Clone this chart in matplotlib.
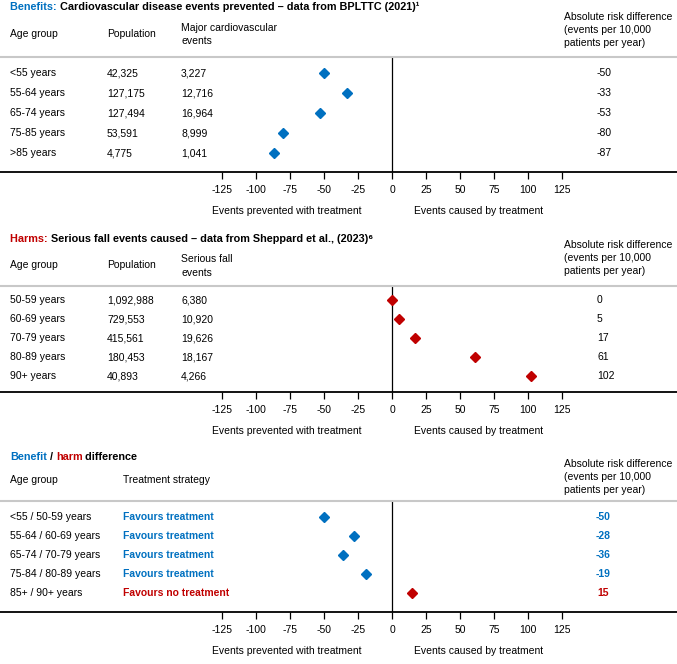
import matplotlib
matplotlib.use("Agg")
import matplotlib.pyplot as plt
import matplotlib.transforms as mtransforms

plt.rcParams['font.family'] = ['Liberation Sans', 'DejaVu Sans']
plt.rcParams['font.size'] = 7.5

BLUE = '#0070C0'
RED = '#C00000'
GREY = '#C8C8C8'

W, H = 677, 664

ticks = [-125, -100, -75, -50, -25, 0, 25, 50, 75, 100, 125]

# benefits panel
ben_age = ['<55 years', '55-64 years', '65-74 years', '75-85 years', '>85 years']
ben_pop = ['42,325', '127,175', '127,494', '53,591', '4,775']
ben_events = ['3,227', '12,716', '16,964', '8,999', '1,041']
ben_ard = [-50, -33, -53, -80, -87]

# harms panel
harm_age = ['50-59 years', '60-69 years', '70-79 years', '80-89 years', '90+ years']
harm_pop = ['1,092,988', '729,553', '415,561', '180,453', '40,893']
harm_events = ['6,380', '10,920', '19,626', '18,167', '4,266']
harm_ard = [0, 5, 17, 61, 102]

# difference panel
diff_age = ['<55 / 50-59 years', '55-64 / 60-69 years', '65-74 / 70-79 years',
            '75-84 / 80-89 years', '85+ / 90+ years']
diff_strategy = ['Favours treatment', 'Favours treatment', 'Favours treatment',
                 'Favours treatment', 'Favours no treatment']
diff_ard = [-50, -28, -36, -19, 15]

ard_header = 'Absolute risk difference\n(events per 10,000\npatients per year)'
LS = 1.38

fig = plt.figure(figsize=(W / 100, H / 100), dpi=100)


def fx(px):
    return px / W


def fy(py):
    return 1 - py / H


def make_axes(top, bottom, ylim):
    ax = fig.add_axes([0, fy(bottom), 1, (bottom - top) / H])
    ax.set_xlim(-392 / 1.36, (W - 392) / 1.36)
    ax.set_ylim(ylim)
    ax.set_facecolor('none')
    for s in ['left', 'right']:
        ax.spines[s].set_visible(False)
    ax.spines['top'].set_color(GREY)
    ax.spines['top'].set_linewidth(1.5)
    ax.spines['bottom'].set_color('black')
    ax.spines['bottom'].set_linewidth(1.3)
    ax.set_yticks([])
    ax.set_xticks(ticks)
    ax.set_xticklabels([str(t) for t in ticks])
    ax.tick_params(axis='x', direction='out', length=5, width=0.9, pad=4.5, labelsize=7.5)
    ax.axvline(0, color='black', lw=0.9)
    # labels under the axis
    fig.text(fx(287), fy(bottom + 39), 'Events prevented with treatment', ha='center', va='center')
    fig.text(fx(479), fy(bottom + 39), 'Events caused by treatment', ha='center', va='center')
    return ax


def colored_title(parts, y):
    t = fig.text(fx(10), fy(y), parts[0][0], color=parts[0][1], weight='bold',
                 ha='left', va='center', fontsize=7.8)
    for s, c in parts[1:]:
        t = fig.axes[0].annotate(s, xy=(1, 0), xycoords=t, ha='left', va='bottom',
                                 color=c, weight='bold', fontsize=7.8,
                                 annotation_clip=False)


def rows(ax, cols):
    tr = mtransforms.blended_transform_factory(fig.transFigure, ax.transData)
    for x, vals, kw in cols:
        for i, v in enumerate(vals):
            ax.text(fx(x), i, v, transform=tr, va='center', **kw)


# ---- panel 1: benefits
ax1 = make_axes(57, 172, (4.95, -0.8))
ax1.plot(ben_ard, range(len(ben_ard)), 'D', color=BLUE, ms=5, mec=BLUE)
rows(ax1, [(10, ben_age, dict(ha='left')),
           (107, ben_pop, dict(ha='left')),
           (181, ben_events, dict(ha='left')),
           (597, [str(v) for v in ben_ard], dict(ha='left'))])
fig.text(fx(10), fy(34), 'Age group', va='center')
fig.text(fx(107), fy(34), 'Population', va='center')
fig.text(fx(181), fy(34.5), 'Major cardiovascular\nevents', va='center', linespacing=LS)
fig.text(fx(564), fy(30), ard_header, va='center', linespacing=LS)

# ---- panel 2: harms
ax2 = make_axes(286, 392, (4.84, -0.74))
ax2.plot(harm_ard, range(len(harm_ard)), 'D', color=RED, ms=5, mec=RED)
rows(ax2, [(10, harm_age, dict(ha='left')),
           (107, harm_pop, dict(ha='left')),
           (181, harm_events, dict(ha='left')),
           (597, [str(v) for v in harm_ard], dict(ha='left'))])
fig.text(fx(10), fy(265), 'Age group', va='center')
fig.text(fx(107), fy(265), 'Population', va='center')
fig.text(fx(181), fy(266), 'Serious fall\nevents', va='center', linespacing=LS)
fig.text(fx(564), fy(258), ard_header, va='center', linespacing=LS)

# ---- panel 3: difference
ax3 = make_axes(501, 612, (5.0, -0.84))
diff_colors = [BLUE if v < 0 else RED for v in diff_ard]
for i, (v, c) in enumerate(zip(diff_ard, diff_colors)):
    ax3.plot(v, i, 'D', color=c, ms=5, mec=c)
tr3 = mtransforms.blended_transform_factory(fig.transFigure, ax3.transData)
for i in range(len(diff_ard)):
    ax3.text(fx(10), i, diff_age[i], transform=tr3, va='center')
    ax3.text(fx(123), i, diff_strategy[i], transform=tr3, va='center',
             color=diff_colors[i], weight='bold')
    ax3.text(fx(603), i, str(diff_ard[i]), transform=tr3, va='center', ha='center',
             color=diff_colors[i], weight='bold')
fig.text(fx(10), fy(480), 'Age group', va='center')
fig.text(fx(123), fy(480), 'Treatment strategy', va='center')
fig.text(fx(564), fy(477), ard_header, va='center', linespacing=LS)

# titles
colored_title([('Benefits: ', BLUE),
               ('Cardiovascular disease events prevented \u2013 data from BPLTTC (2021)\u00b9', 'black')], 7)
colored_title([('Harms: ', RED),
               ('Serious fall events caused \u2013 data from Sheppard et al., (2023)\u2076', 'black')], 239)
colored_title([('Benefit', BLUE), (' / ', 'black'), ('harm', RED), (' difference', 'black')], 457)

fig.savefig('out.png', dpi=100)
